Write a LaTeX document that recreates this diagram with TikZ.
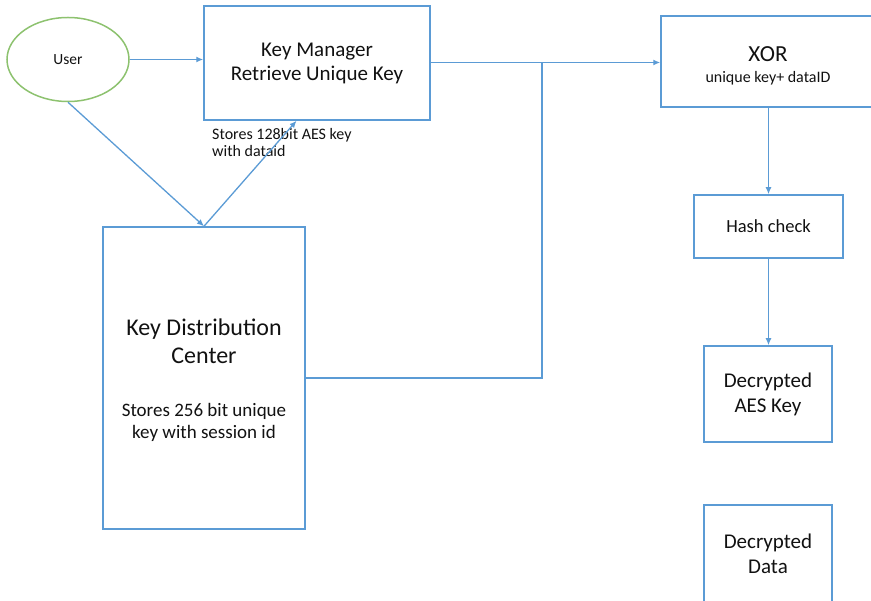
\documentclass[tikz,border=0pt]{standalone}
\usepackage{fontspec}
\setmainfont{Carlito}
\usetikzlibrary{arrows.meta,shapes.geometric,calc}
\definecolor{boxblue}{HTML}{5B9BD5}
\definecolor{usergreen}{HTML}{8DC26F}
\definecolor{txt}{HTML}{111111}
\begin{document}
\begin{tikzpicture}[x=1pt,y=-1pt,
  box/.style={draw=boxblue,line width=1.5pt,rectangle,inner sep=0pt,align=center,text=txt},
  lbl/.style={inner sep=0pt,align=center,text=txt},
  conn/.style={draw=boxblue,line width=1.3pt,-{Latex[length=7pt,width=6pt]}},
  plain/.style={draw=boxblue,line width=1.3pt}]
\useasboundingbox (0,0) rectangle (871,601);
% user
\node[ellipse,draw=usergreen,line width=1.5pt,minimum width=122pt,minimum height=84pt,inner sep=0pt,text=txt,font=\fontsize{15.5}{18}\selectfont] (user) at (68,59.5) {User};
% key manager
\node[box,minimum width=226pt,minimum height=114pt,font=\fontsize{21}{24}\selectfont] (km) at (317,63) {Key Manager\\Retrieve Unique Key};
% XOR
\node[box,minimum width=214pt,minimum height=91pt] (xor) at (768,61.5) {};
\node[lbl,font=\fontsize{23}{26}\selectfont] (xort) at (768,54) {XOR};
\node[lbl,font=\fontsize{16}{19}\selectfont] (xors) at (768,78) {unique key+ dataID};
% hash
\node[box,minimum width=149pt,minimum height=63pt,font=\fontsize{18.5}{22}\selectfont] (hash) at (768.5,226.5) {Hash check};
% AES
\node[box,minimum width=128pt,minimum height=96pt,font=\fontsize{21}{25}\selectfont] (aes) at (768,394) {Decrypted\\AES Key};
% data
\node[box,minimum width=128pt,minimum height=98pt,font=\fontsize{21}{25}\selectfont] (data) at (768,554) {Decrypted\\Data};
% KDC
\node[box,minimum width=202pt,minimum height=302pt] (kdc) at (204,378) {};
\node[lbl,font=\fontsize{24}{27.5}\selectfont] (kdct) at (204,341.5) {Key Distribution\\Center};
\node[lbl,font=\fontsize{19}{22}\selectfont] (kdcd) at (204,422) {Stores 256 bit unique\\key with session id};
% label
\node[lbl,align=left,anchor=north west,font=\fontsize{16}{17}\selectfont] (aeslbl) at (212,128) {Stores 128bit AES key\\with dataid};
% connectors
\coordinate (kmin) at ($(km.south west)!0.41!(km.south east)$);
\coordinate (j) at (542,62.5);
\draw[conn] (user.east) -- (user.east -| km.west);
\draw[conn] (user.south) -- (kdc.north);
\draw[conn] (kdc.north) -- (kmin);
\draw[conn] (km.east |- j) -- (j -| xor.west);
\draw[plain] (kdc.east) -| (j);
\draw[conn] (xor.south -| hash.north) -- (hash.north);
\draw[conn] (hash.south) -- (hash.south |- aes.north);
\end{tikzpicture}
\end{document}
